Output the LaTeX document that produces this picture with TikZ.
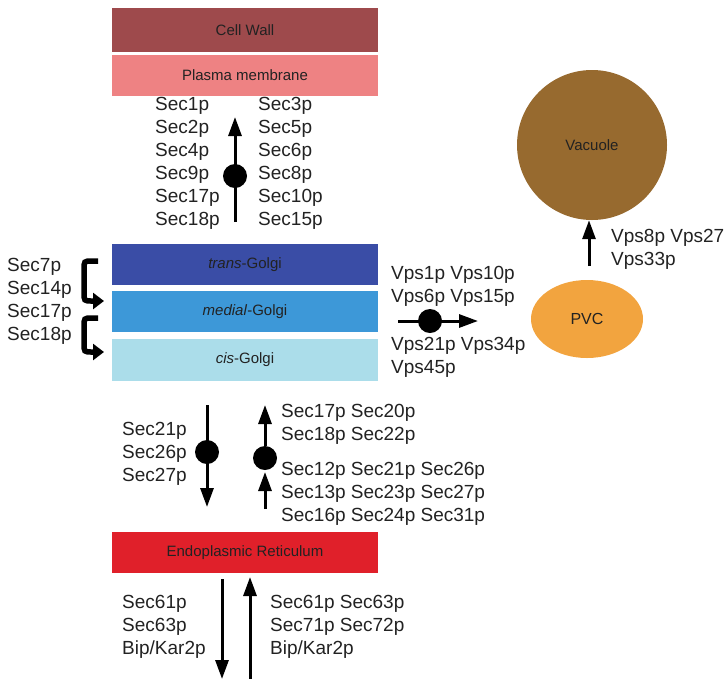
\documentclass[tikz,border=0pt]{standalone}
\usepackage{fontspec}
\setmainfont{Liberation Sans}
\usetikzlibrary{arrows.meta,shapes.geometric}
\definecolor{cwall}{HTML}{9E4A4C}
\definecolor{pmem}{HTML}{EE8283}
\definecolor{tgol}{HTML}{3A4DA6}
\definecolor{mgol}{HTML}{3D98D8}
\definecolor{cgol}{HTML}{ABDDEA}
\definecolor{ercol}{HTML}{E0202A}
\definecolor{vaccol}{HTML}{976A2F}
\definecolor{pvccol}{HTML}{F2A43F}
\definecolor{txt}{HTML}{222222}
\tikzset{
  compbox/.style={rectangle, minimum width=266pt, minimum height=41pt, inner sep=0pt,
    text=txt, font=\fontsize{15}{18}\selectfont},
  lbl/.style={anchor=west, inner sep=0pt, text=txt, align=left,
    font=\fontsize{19}{23}\selectfont},
  dotnode/.style={circle, fill=black, minimum size=24pt, inner sep=0pt},
  arr/.style={line width=3pt, -{Triangle[width=13pt,length=19pt]}},
  curarr/.style={line width=5.5pt, -{Triangle[width=16pt,length=11pt]}},
}
\begin{document}
\begin{tikzpicture}[x=1pt,y=-1pt]
\useasboundingbox (0,0) rectangle (727,678);
% boxes
\node[compbox, fill=cwall, minimum height=44pt] (cw) at (245,30) {Cell Wall};
\node[compbox, fill=pmem] (pm) at (245,75.5) {Plasma membrane};
\node[compbox, fill=tgol] (tg) at (245,264.5) {\textit{trans}-Golgi};
\node[compbox, fill=mgol] (mg) at (245,311.5) {\textit{medial}-Golgi};
\node[compbox, fill=cgol, minimum height=42pt] (cg) at (245,360) {\textit{cis}-Golgi};
\node[compbox, fill=ercol] (er) at (245,552.5) {Endoplasmic Reticulum};
\node[circle, fill=vaccol, minimum size=150pt, inner sep=0pt, text=txt,
  font=\fontsize{15}{18}\selectfont] (vac) at (592,145) {Vacuole};
\node[ellipse, fill=pvccol, minimum width=112pt, minimum height=78pt, inner sep=0pt, text=txt,
  font=\fontsize{16}{18}\selectfont] (pvc) at (587,319) {PVC};

% top: Golgi -> plasma membrane
\coordinate (t0) at (235,222);
\coordinate (t1) at (235,117);
\draw[arr] (t0) -- (t1);
\node[dotnode] (d1) at (235,176) {};
\node[lbl] (tl) at (155,163) {Sec1p\\Sec2p\\Sec4p\\Sec9p\\Sec17p\\Sec18p};
\node[lbl] (tr) at (258,163) {Sec3p\\Sec5p\\Sec6p\\Sec8p\\Sec10p\\Sec15p};

% Golgi left curved arrows
\node[lbl] (gl) at (7,301) {Sec7p\\Sec14p\\Sec17p\\Sec18p};
\coordinate (c1s) at (98,261);
\coordinate (c1e) at (104,301);
\draw[curarr] (c1s) -- (92,261) .. controls (84,261) .. (84,270) -- (84,292) .. controls (84,301) .. (92,301) -- (c1e);
\coordinate (c2s) at (98,318);
\coordinate (c2e) at (104,352);
\draw[curarr] (c2s) -- (92,318) .. controls (84,318) .. (84,327) -- (84,343) .. controls (84,352) .. (92,352) -- (c2e);

% Golgi -> PVC
\coordinate (h0) at (398,321);
\coordinate (h1) at (478,321);
\draw[arr] (h0) -- (h1);
\node[dotnode] (d2) at (430,321) {};
\node[lbl] (vu) at (391,286.5) {Vps1p Vps10p\\Vps6p Vps15p};
\node[lbl] (vd) at (391,357) {Vps21p Vps34p\\Vps45p};

% PVC -> vacuole
\coordinate (p0) at (589,266);
\draw[arr] (p0) -- (p0 |- vac.south);
\node[lbl] (vv) at (611,249) {Vps8p Vps27\\Vps33p};

% ER <-> Golgi
\coordinate (a0) at (207,405);
\coordinate (a1) at (207,507);
\draw[arr] (a0) -- (a1);
\node[dotnode] (d3) at (207,452) {};
\node[lbl] (al) at (122,454) {Sec21p\\Sec26p\\Sec27p};

\coordinate (b0) at (265,446);
\coordinate (b1) at (265,405);
\draw[arr] (b0) -- (b1);
\coordinate (b2) at (265,509);
\coordinate (b3) at (265,472);
\draw[arr] (b2) -- (b3);
\node[dotnode] (d4) at (265,458) {};
\node[lbl] (bu) at (281,424.5) {Sec17p Sec20p\\Sec18p Sec22p};
\node[lbl] (bd) at (281,493.5) {Sec12p Sec21p Sec26p\\Sec13p Sec23p Sec27p\\Sec16p Sec24p Sec31p};

% ER bottom
\coordinate (e0) at (222,579);
\coordinate (e1) at (222,679);
\draw[arr] (e0) -- (e1);
\coordinate (f0) at (250,679);
\coordinate (f1) at (250,577);
\draw[arr] (f0) -- (f1);
\node[lbl] (el) at (122,627) {Sec61p\\Sec63p\\Bip/Kar2p};
\node[lbl] (fr) at (270,627) {Sec61p Sec63p\\Sec71p Sec72p\\Bip/Kar2p};
\end{tikzpicture}
\end{document}
